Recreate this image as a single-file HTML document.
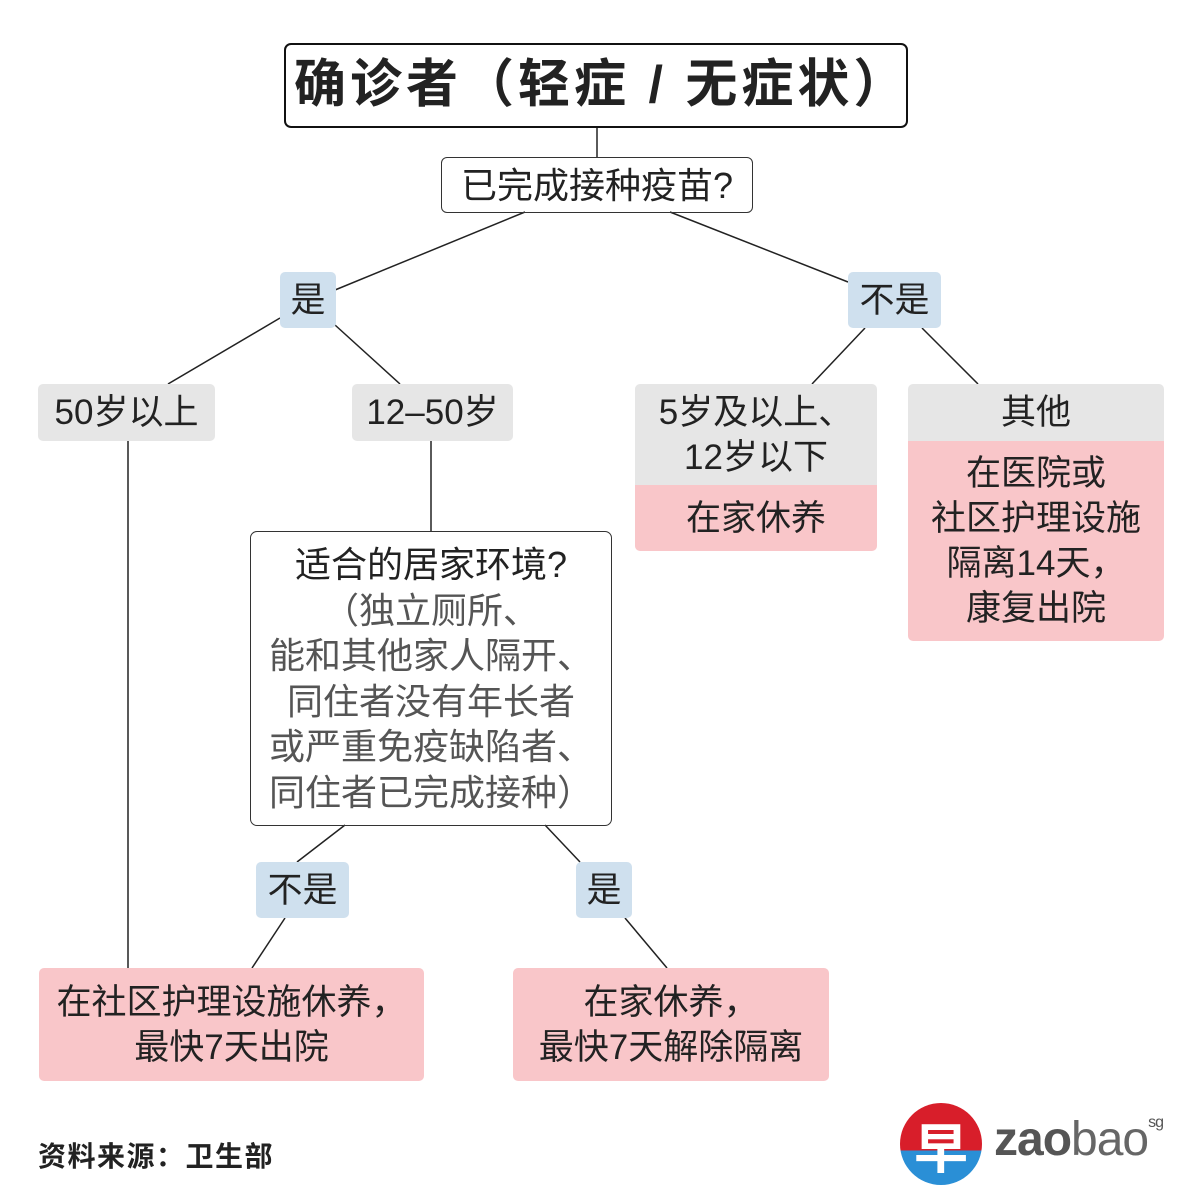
<!DOCTYPE html>
<html><head><meta charset="utf-8"><style>
body{margin:0;width:1200px;height:1200px;background:#fff;position:relative;overflow:hidden;font-family:"Liberation Sans","Noto Sans CJK SC",sans-serif;color:#222}
.b{position:absolute;box-sizing:border-box;display:flex;flex-direction:column;align-items:center;justify-content:center;text-align:center;font-size:35px;line-height:45px}
.g{background:#e6e6e6;border-radius:5px}
.bl{background:#cfe0ee;border-radius:5px}
.p{background:#f9c6c9;border-radius:5px}
svg{position:absolute;left:0;top:0}
</style></head><body>
<svg width="1200" height="1200" stroke="#222" stroke-width="1.5" fill="none">
<line x1="597" y1="127" x2="597" y2="157"/>
<line x1="525" y1="212" x2="335" y2="290"/>
<line x1="670" y1="212" x2="848" y2="282"/>
<line x1="280" y1="318" x2="168" y2="384"/>
<line x1="335" y1="325" x2="400" y2="384"/>
<line x1="865" y1="328" x2="812" y2="384"/>
<line x1="922" y1="328" x2="978" y2="384"/>
<line x1="128" y1="441" x2="128" y2="968"/>
<line x1="431" y1="441" x2="431" y2="531"/>
<line x1="345" y1="825" x2="297" y2="862"/>
<line x1="545" y1="825" x2="580" y2="862"/>
<line x1="285" y1="918" x2="252" y2="968"/>
<line x1="625" y1="918" x2="667" y2="968"/>
</svg>
<div class="b" style="left:284px;top:43px;width:624px;height:85px;border:2.5px solid #111;border-radius:7px;font-weight:bold;font-size:52px;letter-spacing:4px;padding-left:8px">确诊者（轻症 / 无症状）</div>
<div class="b" style="left:441px;top:157px;width:312px;height:56px;border:1.5px solid #333;border-radius:6px;font-size:36px">已完成接种疫苗?</div>
<div class="b bl" style="left:280px;top:272px;width:56px;height:56px">是</div>
<div class="b bl" style="left:848px;top:272px;width:93px;height:56px">不是</div>
<div class="b g" style="left:38px;top:384px;width:177px;height:57px">50岁以上</div>
<div class="b g" style="left:352px;top:384px;width:161px;height:57px">12–50岁</div>
<div class="b g" style="left:635px;top:384px;width:242px;height:101px;border-radius:5px 5px 0 0">5岁及以上、<br>12岁以下</div>
<div class="b p" style="left:635px;top:485px;width:242px;height:66px;border-radius:0 0 5px 5px">在家休养</div>
<div class="b g" style="left:908px;top:384px;width:256px;height:57px;border-radius:5px 5px 0 0">其他</div>
<div class="b p" style="left:908px;top:441px;width:256px;height:200px;border-radius:0 0 5px 5px">在医院或<br>社区护理设施<br>隔离14天，<br>康复出院</div>
<div class="b" style="left:250px;top:531px;width:362px;height:295px;border:1.5px solid #333;border-radius:7px;font-size:36px;line-height:45.5px;color:#555"><span style="color:#222">适合的居家环境?</span>（独立厕所、<br>能和其他家人隔开、<br>同住者没有年长者<br>或严重免疫缺陷者、<br>同住者已完成接种）</div>
<div class="b bl" style="left:256px;top:862px;width:93px;height:56px">不是</div>
<div class="b bl" style="left:576px;top:862px;width:56px;height:56px">是</div>
<div class="b p" style="left:39px;top:968px;width:385px;height:113px">在社区护理设施休养，<br>最快7天出院</div>
<div class="b p" style="left:513px;top:968px;width:316px;height:113px">在家休养，<br>最快7天解除隔离</div>
<div style="position:absolute;left:38px;top:1135px;font-size:28px;font-weight:bold;color:#222;letter-spacing:1.5px">资料来源：卫生部</div>
<div style="position:absolute;left:900px;top:1103px;width:82px;height:82px;border-radius:50%;background:linear-gradient(#d81e2a 0 58%,#2a8fd6 58%);color:#fff;font-size:54px;font-weight:bold;display:flex;align-items:center;justify-content:center">早</div>
<div style="position:absolute;left:994px;top:1112px;font-size:48px;color:#555;letter-spacing:-1px"><b>zao</b><span style="font-weight:300;color:#666">bao</span><sup style="font-size:16px;vertical-align:28px">sg</sup></div>
</body></html>
